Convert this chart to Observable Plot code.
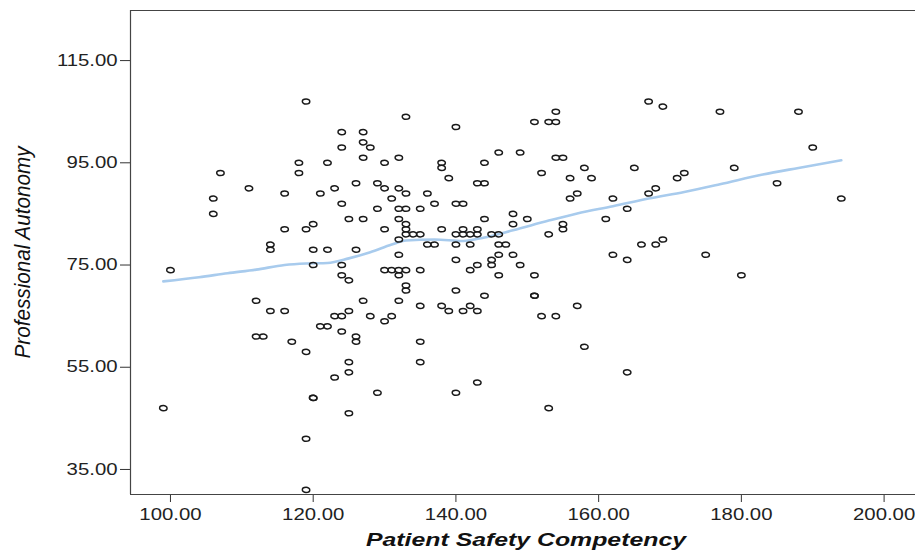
<!DOCTYPE html>
<html>
<head>
<meta charset="utf-8">
<script src="https://cdn.jsdelivr.net/npm/d3@7"></script>
<script src="https://cdn.jsdelivr.net/npm/@observablehq/plot@0.6"></script>
<style>
  html, body { margin: 0; padding: 0; background: #fff; overflow: hidden; }
  #chart svg { display: block; }
</style>
</head>
<body>
<div id="chart"></div>
<script>
// Patient Safety Competency (x) values
const safety = [
  99,100,106,106,107,111,114,114,116,116,118,118,119,119,120,120,120,121,122,122,
  112,114,116,112,113,117,119,120,120,119,119,121,122,
  133,140,124,127,127,128,124,127,130,132,138,138,144,146,139,143,144,
  123,126,129,130,132,133,136,131,137,124,129,132,133,135,140,141,144,125,127,132,133,
  130,133,138,141,143,133,134,135,140,141,142,143,145,146,132,136,137,140,142,146,
  126,124,124,125,132,140,143,145,145,146,142,130,131,132,133,132,135,133,133,140,144,
  127,132,135,138,139,141,142,143,125,123,124,128,130,131,124,126,126,135,125,135,125,123,
  129,140,143,125,
  167,169,154,151,153,154,149,154,155,152,158,165,156,159,171,156,157,162,167,168,164,
  148,148,150,161,155,155,153,147,146,148,149,151,151,151,162,164,166,168,169,
  152,154,157,158,164,153,
  177,188,190,179,172,185,194,175,180
];
// Professional Autonomy (y) values, same order
const autonomy = [
  47,74,88,85,93,90,79,78,89,82,95,93,107,82,83,78,75,89,95,78,
  68,66,66,61,61,60,58,49,49,41,31,63,63,
  104,102,101,101,99,98,98,96,95,96,95,94,95,97,92,91,91,
  90,91,91,90,90,89,89,88,87,87,86,86,86,86,87,87,84,84,84,84,83,
  82,82,82,82,82,81,81,81,81,81,81,81,81,81,80,79,79,79,79,79,
  78,75,73,72,77,76,75,76,75,73,74,74,74,74,74,73,74,71,70,70,69,
  68,68,67,67,66,66,67,66,66,65,65,65,64,65,62,61,60,60,56,56,54,53,
  50,50,52,46,
  107,106,105,103,103,103,97,96,96,93,94,94,92,92,92,88,89,88,89,90,86,
  85,83,84,84,83,82,81,79,77,77,75,73,69,69,77,76,79,79,80,
  65,65,67,59,54,47,
  105,105,98,94,93,91,88,77,73
];
// Loess fit line
const fitX = [99,104,108,112,116,119,122,125,128,131,133,137,141,144,148,153,157,162,167,172,177,183,188,194];
const fitY = [71.8,72.6,73.4,74.1,75.0,75.3,75.4,76.3,77.5,79.0,79.8,80.0,79.7,80.4,81.8,83.7,85.1,86.5,88.0,89.3,90.8,92.7,94.0,95.5];
// Tick values and axis titles
const xTicks = [100,120,140,160,180,200];
const yTicks = [35,55,75,95,115];
const xTitle = "Patient Safety Competency";
const yTitle = "Professional Autonomy";

const xDomain = [94.4, 204.4];
const yDomain = [30.1, 124.8];

const points = safety.map((x, i) => ({x, y: autonomy[i]}));
const fit = fitX.map((x, i) => ({x, y: fitY[i]}));

const ellipse = {
  draw(context, size) {
    const r = Math.sqrt(size / Math.PI);
    const rx = r * 1.2, ry = r * 0.82, k = 0.5523;
    context.moveTo(rx, 0);
    context.bezierCurveTo(rx, k * ry, k * rx, ry, 0, ry);
    context.bezierCurveTo(-k * rx, ry, -rx, k * ry, -rx, 0);
    context.bezierCurveTo(-rx, -k * ry, -k * rx, -ry, 0, -ry);
    context.bezierCurveTo(k * rx, -ry, rx, -k * ry, rx, 0);
    context.closePath();
  }
};

const chart = Plot.plot({
  width: 915,
  height: 557,
  marginLeft: 130,
  marginRight: 0,
  marginTop: 10,
  marginBottom: 63,
  style: {fontSize: "16px", fontFamily: "'Liberation Sans', Arial, sans-serif", color: "#333", background: "#fff"},
  x: {domain: xDomain, ticks: xTicks, tickFormat: d => d.toFixed(2), tickSize: 8, tickPadding: 6, label: null},
  y: {domain: yDomain, ticks: yTicks, tickFormat: d => d.toFixed(2), tickSize: 10, tickPadding: 3, label: null},
  marks: [
    Plot.ruleY([yDomain[1]], {stroke: "#444", strokeWidth: 1.2}),
    Plot.ruleY([yDomain[0]], {stroke: "#444", strokeWidth: 1.2}),
    Plot.ruleX([xDomain[0]], {stroke: "#444", strokeWidth: 1.2}),
    Plot.line(fit, {x: "x", y: "y", stroke: "#a8cbed", strokeWidth: 2.6, curve: "monotone-x"}),
    Plot.dot(points, {x: "x", y: "y", r: 3.1, symbol: ellipse, stroke: "#1a1a1a", strokeWidth: 1.5, fill: "none"}),
    Plot.text([xTitle], {frameAnchor: "bottom", dx: 3, dy: 51, fontSize: 19, fontWeight: "bold", fontStyle: "italic", fill: "#111"}),
    Plot.text([yTitle], {frameAnchor: "left", dx: -108, rotate: -90, fontSize: 22, fontStyle: "italic", fill: "#111"})
  ]
});
document.getElementById("chart").appendChild(chart);

// Stretch or squeeze texts horizontally to match the reference's rendering
chart.querySelectorAll("text").forEach(t => {
  const s = t.textContent;
  if (/^\d+\.00$/.test(s)) {
    t.setAttribute("fill", "#222");
    const w = t.getComputedTextLength();
    t.setAttribute("textLength", (w * 1.27).toFixed(1));
    t.setAttribute("lengthAdjust", "spacingAndGlyphs");
  } else if (s === xTitle) {
    t.setAttribute("textLength", "320");
    t.setAttribute("lengthAdjust", "spacingAndGlyphs");
  } else if (s === yTitle) {
    t.setAttribute("text-anchor", "start");
    t.setAttribute("x", "-106");
    t.setAttribute("textLength", "212");
    t.setAttribute("lengthAdjust", "spacingAndGlyphs");
  }
});
</script>
</body>
</html>
